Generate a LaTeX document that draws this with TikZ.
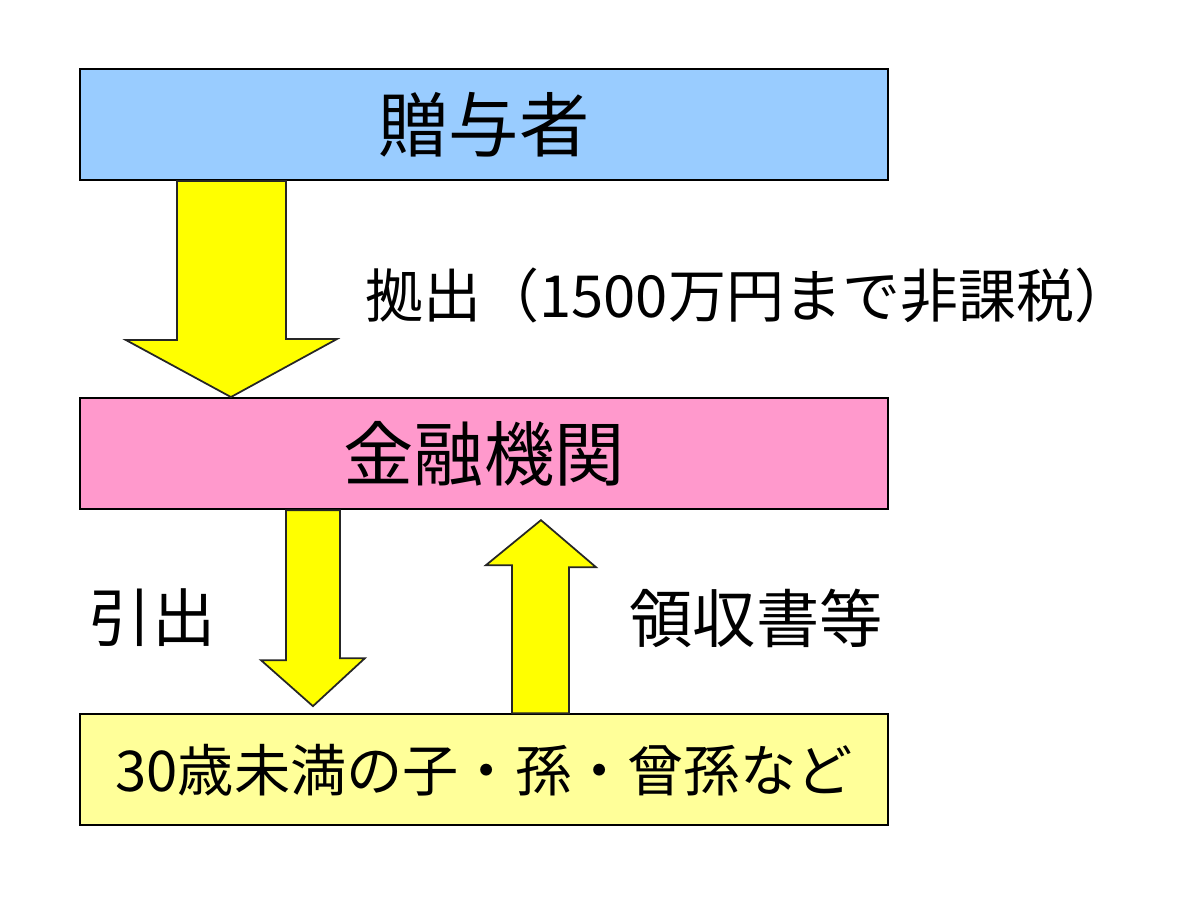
\documentclass[tikz,border=0pt]{standalone}
\usepackage{fontspec}
\newfontfamily\jpfont{Noto Sans CJK JP}
\usetikzlibrary{positioning,calc}
\definecolor{giverblue}{HTML}{99CCFF}
\definecolor{bankpink}{HTML}{FF99CC}
\definecolor{childyellow}{HTML}{FFFF99}
\definecolor{arrowyellow}{HTML}{FFFF00}
\begin{document}
\begin{tikzpicture}[box/.style = {draw, line width=1.2pt, minimum width=16.16cm, minimum height=2.22cm, inner sep=0pt, font=\jpfont\fontsize{40}{48}\selectfont},
    fatarrow/.style = {draw=black!85, fill=arrowyellow, line width=1pt, line join=miter},
    lbl/.style = {inner sep=0pt, font=\jpfont\fontsize{36}{42}\selectfont}]
        \useasboundingbox (0,0) rectangle (24,18.16);
        \node[box, fill=giverblue] (giver) at (9.68,15.67) {贈与者};
        \node[box, fill=bankpink] (bank) [below=4.32cm of giver] {金融機関};
        \node[box, fill=childyellow, font=\jpfont\fontsize{32}{38}\selectfont] (child) [below=4.06cm of bank] {30歳未満の子・孫・曾孫など};
        \node[lbl, anchor=west, font=\jpfont\fontsize{33}{38}\selectfont] (deposit) at (7.3,12.26) {拠出（1500万円まで非課税）};
        \node[lbl] (withdraw) at (3.04,5.8) {引出};
        \node[lbl] (receipt) at (15.12,5.8) {領収書等};

        \draw[fatarrow] ($(giver.south west)+(1.96,0)$) -- ++(0,-3.18) -- ++(-1.02,0) -- ($(bank.north west)+(3.04,0)$) -- ++(2.12,1.16) -- ++(-1.02,0) -- ($(giver.south west)+(4.14,0)$) -- cycle;
        \draw[fatarrow] ($(bank.south west)+(4.14,0)$) -- ++(0,-3) -- ++(-0.5,0) -- ($(child.north west)+(4.68,0.14)$) -- ++(1.04,0.96) -- ++(-0.5,0) -- ($(bank.south west)+(5.22,0)$) -- cycle;
        \draw[fatarrow] ($(child.north west)+(8.66,0)$) -- ++(0,2.96) -- ++(-0.52,0) -- ($(bank.south west)+(9.24,-0.2)$) -- ++(1.1,-0.94) -- ++(-0.54,0) -- ($(child.north west)+(9.8,0)$) -- cycle;
    \end{tikzpicture}
\end{document}
